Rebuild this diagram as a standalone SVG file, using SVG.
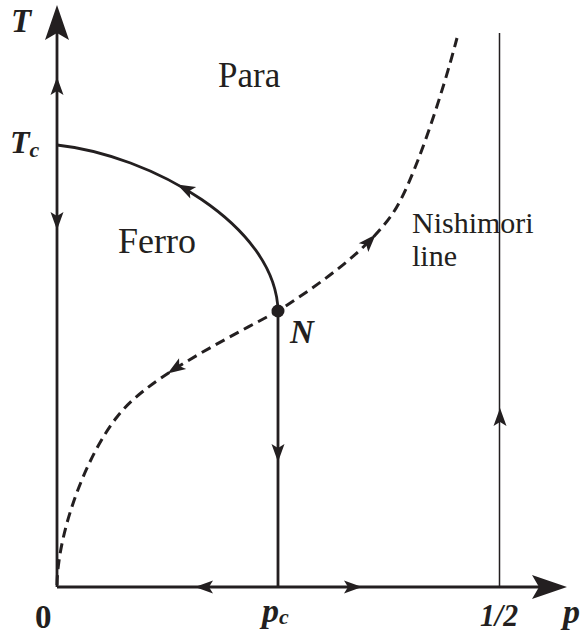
<svg xmlns="http://www.w3.org/2000/svg" xmlns:xlink="http://www.w3.org/1999/xlink" width="586" height="635" viewBox="0 0 586 635">
<style>
.ax{stroke:#231f20;stroke-width:2.8;fill:none}
.thin{stroke:#231f20;stroke-width:1.5;fill:none}
.dash{stroke:#231f20;stroke-width:3;fill:none;stroke-dasharray:10 6}
.ah{fill:#231f20}
.lbl{font-family:"Liberation Serif","Times New Roman",serif;fill:#231f20}
.bi{font-weight:bold;font-style:italic}
.b{font-weight:bold}
</style>
<defs>
<path id="ah" d="M0,0 L-18,-6.5 L-14,0 L-18,6.5 Z"/>
<path id="big" d="M0,0 L-35,-12 L-28,0 L-35,12 Z"/>
</defs>
<rect width="586" height="635" fill="#fff"/>
<g id="connectors">
<line class="ax" x1="57" y1="587" x2="57" y2="30"/>
<line class="ax" x1="57" y1="587" x2="540" y2="587"/>
<line class="ax" x1="278" y1="311" x2="278" y2="587"/>
<line class="thin" x1="499.5" y1="33" x2="499.5" y2="587"/>
<path class="ax" d="M57,145 C150,155 276,225 278,311"/>
<path class="dash" d="M57,585 C58,530 87,455 117,417 C145,380 215,345 278,311 C323,282 368,249.5 393,213 C413,184 443,92 457,38"/>
<g class="ah">
<use xlink:href="#big" transform="translate(57,5) rotate(-90)"/>
<use xlink:href="#big" transform="translate(567,587)"/>
<use xlink:href="#ah" transform="translate(57,77) rotate(-90)"/>
<use xlink:href="#ah" transform="translate(57,230) rotate(90)"/>
<use xlink:href="#ah" transform="translate(278,462) rotate(90)"/>
<use xlink:href="#ah" transform="translate(500,408) rotate(-90)"/>
<use xlink:href="#ah" transform="translate(195,587) rotate(180)"/>
<use xlink:href="#ah" transform="translate(362,587)"/>
<use xlink:href="#ah" transform="translate(177.2,184.5) rotate(207)"/>
<use xlink:href="#ah" transform="translate(167.6,373.6) rotate(146.6)"/>
<use xlink:href="#ah" transform="translate(375.7,234.4) rotate(-47.4)"/>
</g>
</g>
<g id="node-N">
<circle cx="278" cy="311" r="6.5" fill="#231f20"/>
<text class="lbl bi" x="290" y="343" font-size="33">N</text>
</g>
<g id="label-T"><text class="lbl bi" x="11" y="32" font-size="33">T</text></g>
<g id="label-Tc"><text class="lbl bi" x="10" y="153" font-size="32">T<tspan font-size="22" dy="4">c</tspan></text></g>
<g id="label-Para"><text class="lbl" x="218" y="87" font-size="35">Para</text></g>
<g id="label-Ferro"><text class="lbl" x="118" y="253" font-size="36">Ferro</text></g>
<g id="label-Nishimori"><text class="lbl" x="412" y="233" font-size="30">Nishimori</text><text class="lbl" x="412" y="266" font-size="30">line</text></g>
<g id="label-0"><text class="lbl b" x="35" y="628" font-size="33">0</text></g>
<g id="label-pc"><text class="lbl bi" x="262" y="622" font-size="34">p<tspan font-size="22" dy="2">c</tspan></text></g>
<g id="label-half"><text class="lbl bi" x="480" y="626" font-size="32" textLength="38" lengthAdjust="spacingAndGlyphs">1/2</text></g>
<g id="label-p"><text class="lbl bi" x="563" y="623" font-size="34">p</text></g>
</svg>
